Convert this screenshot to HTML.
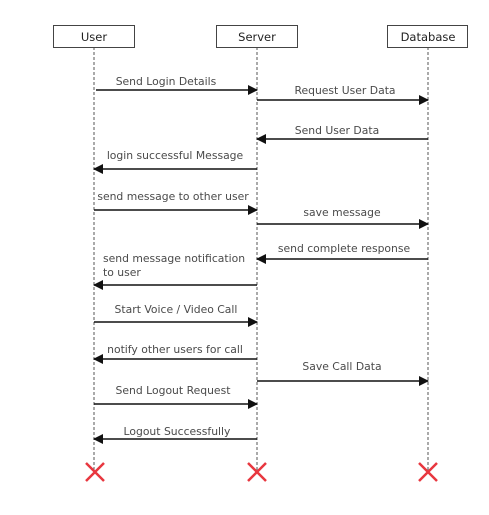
<!DOCTYPE html>
<html><head><style>body{margin:0;background:#fff}</style></head><body>
<svg width="489" height="510" xmlns="http://www.w3.org/2000/svg" font-family="'DejaVu Sans','Liberation Sans',sans-serif" font-size="10.8" fill="#4a4a4a">
<defs><marker id="a" markerWidth="10" markerHeight="10" refX="9" refY="5" orient="auto" markerUnits="userSpaceOnUse"><path d="M0,0 L10,5 L0,10 z" fill="#111"/></marker></defs>
<g stroke="#555" stroke-dasharray="3,2" stroke-width="1">
<line x1="94" y1="47" x2="94" y2="470"/><line x1="257" y1="47" x2="257" y2="470"/><line x1="428" y1="47" x2="428" y2="470"/></g>
<g fill="#fff" stroke="#444" stroke-width="1">
<rect x="53.5" y="25.5" width="81" height="22"/><rect x="216.5" y="25.5" width="81" height="22"/><rect x="387.5" y="25.5" width="80" height="22"/></g>
<g text-anchor="middle" fill="#222" font-size="11.5"><text x="94" y="41">User</text><text x="257" y="41">Server</text><text x="428" y="41">Database</text></g>
<g stroke="#111" stroke-width="1.5" marker-end="url(#a)">
<line x1="96" y1="90" x2="257" y2="90"/>
<line x1="257" y1="100" x2="428" y2="100"/>
<line x1="428" y1="139" x2="257" y2="139"/>
<line x1="257" y1="169" x2="94" y2="169"/>
<line x1="94" y1="210" x2="257" y2="210"/>
<line x1="257" y1="224" x2="428" y2="224"/>
<line x1="428" y1="259" x2="257" y2="259"/>
<line x1="257" y1="285" x2="94" y2="285"/>
<line x1="94" y1="322" x2="257" y2="322"/>
<line x1="257" y1="359" x2="94" y2="359"/>
<line x1="257" y1="381" x2="428" y2="381"/>
<line x1="94" y1="404" x2="257" y2="404"/>
<line x1="257" y1="439" x2="94" y2="439"/>
</g>
<g text-anchor="middle">
<text x="166" y="85">Send Login Details</text>
<text x="345" y="94">Request User Data</text>
<text x="337" y="134">Send User Data</text>
<text x="175" y="159">login successful Message</text>
<text x="173" y="200">send message to other user</text>
<text x="342" y="216">save message</text>
<text x="344" y="252">send complete response</text>
<text x="176" y="313">Start Voice / Video Call</text>
<text x="175" y="353">notify other users for call</text>
<text x="342" y="370">Save Call Data</text>
<text x="173" y="394">Send Logout Request</text>
<text x="177" y="435">Logout Successfully</text>
</g>
<text x="103" y="262">send message notification</text>
<text x="103" y="276">to user</text>
<g stroke="#e8373f" stroke-width="2.5">
<path d="M86,463 L104,481 M104,463 L86,481"/>
<path d="M248,463 L266,481 M266,463 L248,481"/>
<path d="M419,463 L437,481 M437,463 L419,481"/>
</g>
</svg>
</body></html>
